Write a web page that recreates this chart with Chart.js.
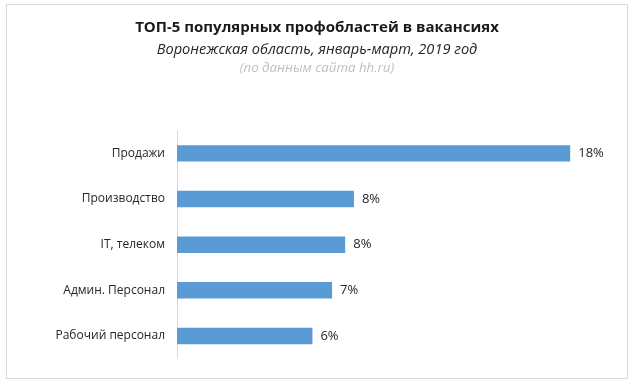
<!DOCTYPE html>
<html>
<head>
<meta charset="utf-8">
<script src="https://cdn.jsdelivr.net/npm/chart.js@4"></script>
<style>
  body { margin: 0; background: #fff; }
  #frame {
    position: absolute; left: 6px; top: 4px;
    width: 620px; height: 373px;
    border: 1px solid #d9d9d9;
  }
</style>
</head>
<body>
<div id="frame"><canvas id="chart"></canvas></div>
<script>
'use strict';

var categories = ['Продажи', 'Производство', 'IT, телеком', 'Админ. Персонал', 'Рабочий персонал'];
var shares = [18.0, 8.1, 7.7, 7.1, 6.2];
var titleText = 'ТОП-5 популярных профобластей в вакансиях';
var subtitleText = 'Воронежская область, январь-март, 2019 год';
var sourceText = '(по данным сайта hh.ru)';

var fontFamily = "'Open Sans', sans-serif";

// draws the gray source line under the subtitle
var sourceLine = {
  id: 'sourceLine',
  afterDraw: function(chart) {
    var ctx = chart.ctx;
    ctx.save();
    ctx.font = 'italic 13.3px ' + fontFamily;
    ctx.fillStyle = '#bfbfbf';
    ctx.textAlign = 'center';
    ctx.textBaseline = 'middle';
    ctx.fillText(sourceText, chart.width / 2, 63);
    ctx.restore();
  }
};

// value labels right of every bar
var valueLabels = {
  id: 'valueLabels',
  afterDatasetsDraw: function(chart) {
    var ctx = chart.ctx;
    var meta = chart.getDatasetMeta(0);
    ctx.save();
    ctx.font = '13px ' + fontFamily;
    ctx.fillStyle = '#262626';
    ctx.textAlign = 'left';
    ctx.textBaseline = 'middle';
    meta.data.forEach(function(bar, i) {
      ctx.fillText(Math.round(shares[i]) + '%', bar.x + 8, bar.y);
    });
    ctx.restore();
  }
};

var ctxEl = document.getElementById('chart').getContext('2d');
var chart = new Chart(ctxEl, {
  type: 'bar',
  data: {
    labels: categories,
    datasets: [{
      data: shares,
      backgroundColor: '#5b9bd5',
      barPercentage: 0.36,
      categoryPercentage: 1
    }]
  },
  options: {
    indexAxis: 'y',
    responsive: true,
    maintainAspectRatio: false,
    animation: false,
    layout: { padding: { left: 0, right: 0, top: 0, bottom: 17 } },
    plugins: {
      legend: { display: false },
      tooltip: { enabled: false },
      title: {
        display: true,
        text: titleText,
        color: '#1a1a1a',
        font: { family: fontFamily, size: 15, weight: 'bold' },
        padding: { top: 14, bottom: 1 }
      },
      subtitle: {
        display: true,
        text: subtitleText,
        color: '#262626',
        font: { family: fontFamily, size: 14.6, style: 'italic' },
        padding: { top: 3, bottom: 72 }
      }
    },
    scales: {
      x: {
        min: 0,
        max: 20.6,
        display: false
      },
      y: {
        grid: { display: false, drawTicks: false },
        border: { display: true, color: '#d9d9d9' },
        ticks: {
          color: '#262626',
          padding: 12,
          font: { family: fontFamily, size: 12 }
        },
        afterFit: function(scale) { scale.width = 170; }
      }
    }
  },
  plugins: [sourceLine, valueLabels]
});
</script>
</body>
</html>
